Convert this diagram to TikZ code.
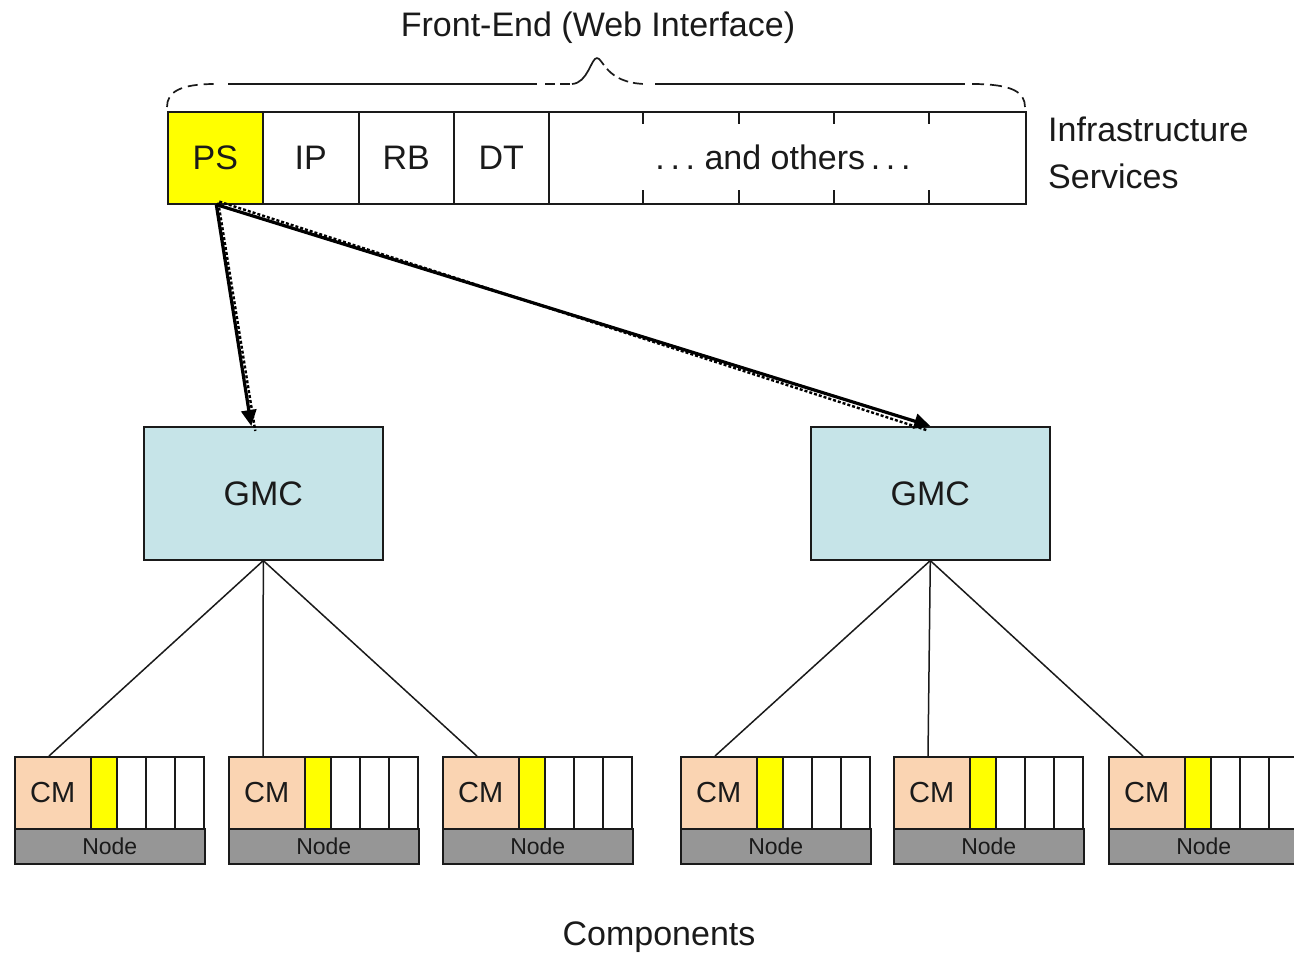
\documentclass[tikz,border=0pt]{standalone}
\usepackage{fontspec}
\setmainfont{Liberation Sans}
\usetikzlibrary{arrows.meta}
\newcommand\fsz[1]{\fontsize{#1}{#1}\selectfont}
\definecolor{txt}{HTML}{1A1A1A}
\definecolor{psyellow}{HTML}{FFFF00}
\definecolor{peach}{HTML}{FAD4B2}
\definecolor{gmcblue}{HTML}{C6E4E8}
\definecolor{nodegray}{HTML}{969696}
\tikzset{
  barcell/.style={draw=txt, line width=1.6pt, inner sep=0pt, minimum height=92pt, anchor=north west, font=\fsz{34}, text=txt},
  gmcbox/.style={draw=txt, line width=1.6pt, fill=gmcblue, inner sep=0pt, minimum width=239pt, minimum height=133pt, anchor=north west, font=\fsz{34}, text=txt},
  cmcell/.style={draw=txt, line width=1.5pt, fill=peach, inner sep=0pt, minimum width=76pt, minimum height=72pt, anchor=north west, font=\fsz{29}, text=txt},
  ycell/.style={draw=txt, line width=1.5pt, fill=psyellow, inner sep=0pt, minimum width=26pt, minimum height=72pt, anchor=north west},
  wcell/.style={draw=txt, line width=1.5pt, fill=white, inner sep=0pt, minimum width=29pt, minimum height=72pt, anchor=north west},
  nodebar/.style={draw=txt, line width=1.5pt, fill=nodegray, inner sep=0pt, minimum width=190pt, minimum height=35pt, anchor=north west, font=\fsz{23}, text=txt},
  label/.style={font=\fsz{34}, text=txt, inner sep=0pt},
  treeline/.style={draw=txt, line width=1.5pt},
  mainarrow/.style={draw=black, line width=3.2pt, -{Triangle[length=16pt,width=15pt]}},
  dotarrow/.style={draw=black, line width=2.4pt, dash pattern=on 3pt off 2pt},
  braceline/.style={draw=txt, line width=1.7pt}
}
\newcommand\comp[2]{%
  \node[cmcell] (#1cm) at (#2,756) {CM};
  \node[ycell] (#1y) at (#2+76,756) {};
  \node[wcell] (#1w1) at (#2+102,756) {};
  \node[wcell] (#1w2) at (#2+131,756) {};
  \node[wcell] (#1w3) at (#2+160,756) {};
  \node[nodebar] (#1nd) at (#2,828) {Node};
  \coordinate (#1top) at (#2+35,756);
}
\begin{document}
\begin{tikzpicture}[x=1pt,y=-1pt]
\useasboundingbox (0,0) rectangle (1294,956);
\clip (0,0) rectangle (1294,956);
\fill[white] (0,0) rectangle (1294,956);

% title and brace
\node[label] (fe) at (598,28) {Front-End (Web Interface)};
\coordinate (apex) at (597,58);
\draw[braceline, dash pattern=on 10pt off 6pt] (167,107) .. controls (167,92) and (180,84) .. (215,84);
\draw[braceline] (228,84) -- (537,84);
\draw[braceline, dash pattern=on 10pt off 5pt] (545,84) -- (572,84);
\draw[braceline] (572,84) .. controls (588,83) and (591,58) .. (apex);
\draw[braceline, dash pattern=on 10pt off 5pt] (apex) .. controls (603,58) and (606,83) .. (645,84);
\draw[braceline] (655,84) -- (965,84);
\draw[braceline, dash pattern=on 12pt off 6pt] (972,84) .. controls (1012,84) and (1025,92) .. (1025,107);

% infrastructure bar
\node[barcell, fill=psyellow, minimum width=95pt] (ps) at (167,111) {PS};
\node[barcell, minimum width=96pt] (ip) at (262,111) {IP};
\node[barcell, minimum width=95pt] (rb) at (358,111) {RB};
\node[barcell, minimum width=95pt] (dt) at (453,111) {DT};
\node[barcell, minimum width=477pt] (oth) at (548,111) {};
\node[label] (othtxt) at (783,157) {.\,.\,.\ and others\,.\,.\,.};
\foreach \x in {643,739,834,929} {
  \draw[txt, line width=1.5pt] (\x,111) -- (\x,124);
  \draw[txt, line width=1.5pt] (\x,190) -- (\x,203);
}
\node[label, align=left, anchor=north west, font=\fontsize{34}{47}\selectfont] (infra) at (1048,117) {Infrastructure\\Services};

% GMC boxes
\node[gmcbox] (gmcL) at (143,426) {GMC};
\node[gmcbox] (gmcR) at (810,426) {GMC};

% arrows
\draw[dotarrow] ([xshift=3pt,yshift=2pt]ps.south) -- ([xshift=-8pt,yshift=-5pt]gmcL.north);
\draw[mainarrow] ([xshift=1pt]ps.south) -- ([xshift=-12pt]gmcL.north);
\draw[dotarrow] ([xshift=4pt,yshift=3pt]ps.south) -- ([xshift=-4pt,yshift=-4pt]gmcR.north);
\draw[mainarrow] ([xshift=1pt]ps.south) -- ([xshift=0pt]gmcR.north);

% components
\comp{a}{14}
\comp{b}{228}
\comp{c}{442}
\comp{d}{680}
\comp{e}{893}
\comp{f}{1108}

% tree lines
\draw[treeline] (gmcL.south) -- (atop);
\draw[treeline] (gmcL.south) -- (btop);
\draw[treeline] (gmcL.south) -- (ctop);
\draw[treeline] (gmcR.south) -- (dtop);
\draw[treeline] (gmcR.south) -- (etop);
\draw[treeline] (gmcR.south) -- (ftop);

\node[label] (compl) at (659,937) {Components};
\end{tikzpicture}
\end{document}
